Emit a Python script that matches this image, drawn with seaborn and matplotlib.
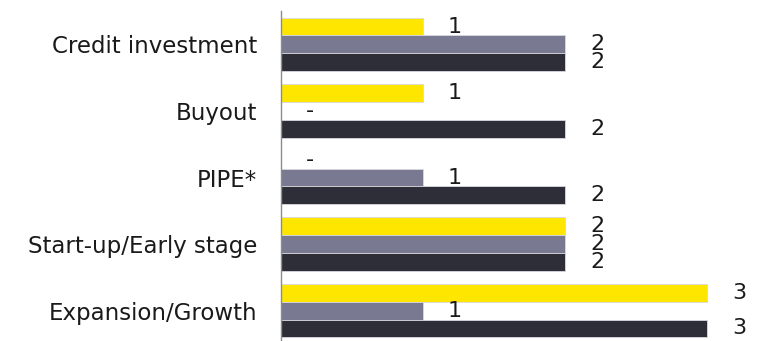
import matplotlib
matplotlib.use("Agg")
import matplotlib.pyplot as plt
import seaborn as sns
import pandas as pd

categories = ["Credit investment", "Buyout", "PIPE*", "Start-up/Early stage", "Expansion/Growth"]
series_names = ["Series 1", "Series 2", "Series 3"]
values_s1 = [1, 1, 0, 2, 3]
values_s2 = [2, 0, 1, 2, 1]
values_s3 = [2, 2, 2, 2, 3]
colors = ["#FFE600", "#797991", "#2E2E38"]

rows = []
for name, vals in zip(series_names, [values_s1, values_s2, values_s3]):
    for cat, v in zip(categories, vals):
        rows.append({"category": cat, "series": name, "value": v})
df = pd.DataFrame(rows)

sns.set_theme(style="white")
plt.rcParams["font.family"] = ["DejaVu Sans"]

fig = plt.figure(figsize=(7.58, 3.41), dpi=100)
ax = fig.add_axes([0.3707, -0.0088, 0.6293, 0.9765])

sns.barplot(data=df, y="category", x="value", hue="series", order=categories,
            hue_order=series_names, palette=colors, saturation=1, orient="h",
            width=0.8, edgecolor="#d8d8de", linewidth=0.6, legend=False, ax=ax)

for cont, vals in zip(ax.containers, [values_s1, values_s2, values_s3]):
    labels = ["-" if v == 0 else f"{v}" for v in vals]
    ax.bar_label(cont, labels=labels, padding=18, fontsize=16, color="#1a1a1a")

ax.set_xlim(0, 3.359)
ax.set_ylim(4.5, -0.5)
ax.set_xlabel("")
ax.set_ylabel("")
ax.set_xticks([])
ax.tick_params(axis="y", length=0, pad=17, labelsize=16.5, labelcolor="#1a1a1a")
for side in ["top", "right", "bottom"]:
    ax.spines[side].set_visible(False)
ax.spines["left"].set_color("#8c8c8c")
ax.spines["left"].set_linewidth(1.0)

fig.savefig("out.png", dpi=100)
